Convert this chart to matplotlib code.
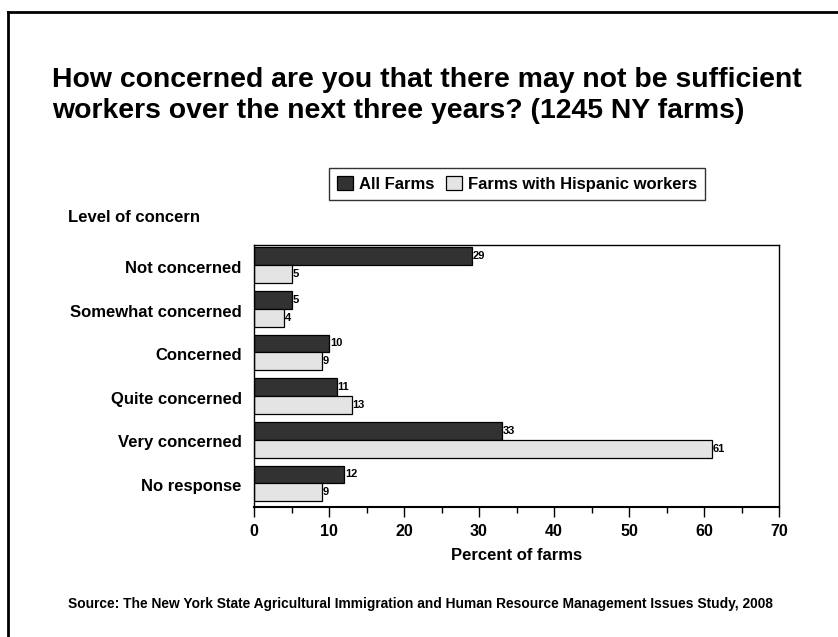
import matplotlib.pyplot as plt
from matplotlib.lines import Line2D
from matplotlib.patches import Patch
from matplotlib.ticker import MultipleLocator

plt.rcParams['font.family'] = ['Liberation Sans', 'DejaVu Sans']
plt.rcParams['font.weight'] = 'bold'

# Данные
categories = ['Not concerned', 'Somewhat concerned', 'Concerned',
              'Quite concerned', 'Very concerned', 'No response']
all_farms = [29, 5, 10, 11, 33, 12]
hispanic_farms = [5, 4, 9, 13, 61, 9]
series_names = ['All Farms', 'Farms with Hispanic workers']

dark = '#323232'
light = '#e4e4e4'

fig = plt.figure(figsize=(8.38, 6.37), dpi=100)
ax = fig.add_axes([254 / 838, 1 - 507 / 637, 525 / 838, 262 / 637])

pos = list(range(len(categories)))
h = 0.41
shift = -0.04
ax.barh([p + shift - h / 2 for p in pos], all_farms, height=h,
        color=dark, edgecolor='black', linewidth=0.9)
ax.barh([p + shift + h / 2 for p in pos], hispanic_farms, height=h,
        color=light, edgecolor='black', linewidth=0.9)

# подписи значений
for p, v in zip(pos, all_farms):
    ax.text(v + 0.15, p + shift - h / 2, str(v), va='center', ha='left',
            fontsize=8, fontweight='bold')
for p, v in zip(pos, hispanic_farms):
    ax.text(v + 0.15, p + shift + h / 2, str(v), va='center', ha='left',
            fontsize=8, fontweight='bold')

ax.set_xlim(0, 70)
ax.set_ylim(len(categories) - 0.5, -0.5)
ax.set_yticks(pos)
ax.set_yticklabels(categories, fontsize=12, fontweight='bold')
ax.tick_params(axis='y', length=0, pad=9)
ax.xaxis.set_major_locator(MultipleLocator(10))
ax.xaxis.set_minor_locator(MultipleLocator(5))
ax.tick_params(axis='x', which='major', length=7, width=1, labelsize=11.5, pad=5)
ax.tick_params(axis='x', which='minor', length=4, width=1)
for lbl in ax.get_xticklabels():
    lbl.set_fontweight('bold')
ax.set_xlabel('Percent of farms', fontsize=12, fontweight='bold', labelpad=7)
for s in ax.spines.values():
    s.set_linewidth(1)
ax.spines['bottom'].set_linewidth(1.5)

handles = [Patch(facecolor=dark, edgecolor='black', linewidth=0.9),
           Patch(facecolor=light, edgecolor='black', linewidth=0.9)]
leg = fig.legend(handles, series_names, loc='center',
                 bbox_to_anchor=(517 / 838, 1 - 184 / 637), ncol=2,
                 frameon=True, fancybox=False, edgecolor='black',
                 prop={'weight': 'bold', 'size': 12},
                 handlelength=0.95, handleheight=0.95, handletextpad=0.36,
                 columnspacing=0.72, borderpad=0.5)
leg.get_frame().set_linewidth(1)

# заголовок в две строки
fig.text(52 / 838, 1 - 87 / 637,
         'How concerned are you that there may not be sufficient',
         ha='left', va='baseline', fontsize=20.4, fontweight='bold')
fig.text(52 / 838, 1 - 118 / 637,
         'workers over the next three years? (1245 NY farms)',
         ha='left', va='baseline', fontsize=20.4, fontweight='bold')

fig.text(68 / 838, 1 - 217 / 637, 'Level of concern', ha='left', va='center',
         fontsize=12, fontweight='bold')

fig.text(420 / 838, 1 - 604 / 637,
         'Source: The New York State Agricultural Immigration and Human Resource '
         'Management Issues Study, 2008',
         ha='center', va='center', fontsize=9.9, fontweight='bold',
         family=['Liberation Sans Narrow', 'Liberation Sans'])

# рамка слайда
fig.add_artist(Line2D([8 / 838, 1], [1 - 12 / 637, 1 - 12 / 637],
                      transform=fig.transFigure, color='black', linewidth=2))
fig.add_artist(Line2D([8 / 838, 8 / 838], [0, 1 - 12 / 637],
                      transform=fig.transFigure, color='black', linewidth=2))

fig.savefig('out.png', dpi=100)
